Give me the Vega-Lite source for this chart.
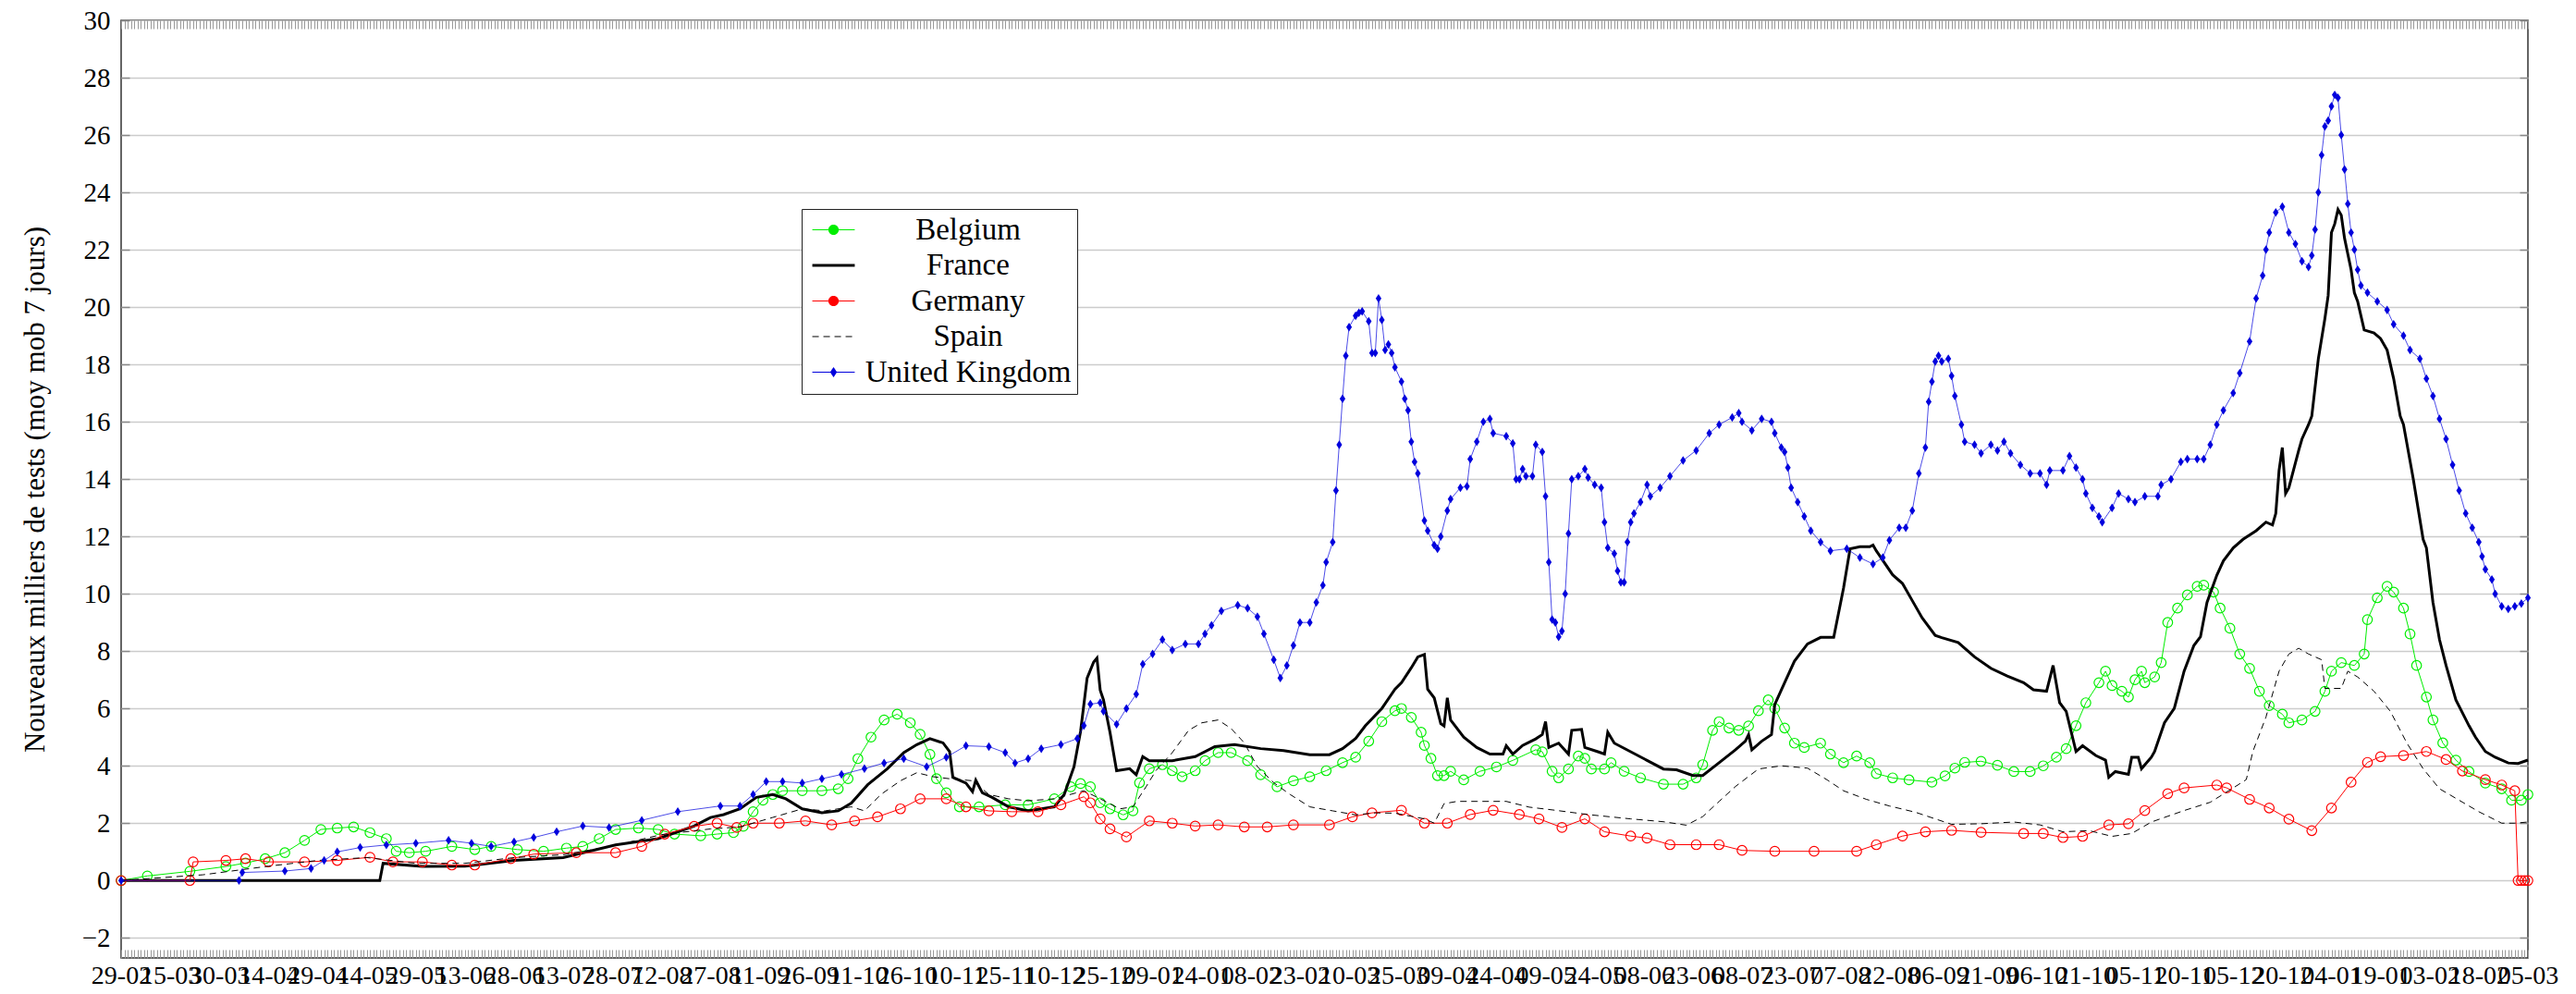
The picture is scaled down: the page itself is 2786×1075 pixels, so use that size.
{
  "$schema": "https://vega.github.io/schema/vega-lite/v6.json",
  "width": 2603,
  "height": 1014,
  "autosize": {"type": "none"},
  "padding": {"left": 131, "top": 22, "right": 52, "bottom": 39},
  "background": "white",
  "config": {
    "font": "'Liberation Serif', 'DejaVu Serif', serif",
    "view": {"stroke": "#333333", "strokeWidth": 1.5}
  },
  "datasets": {
    "be": [
      {"d":"2020-02-29","v":0},{"d":"2020-03-08","v":0.16},{"d":"2020-03-21","v":0.32},{"d":"2020-04-01","v":0.49},{"d":"2020-04-07","v":0.61},{"d":"2020-04-13","v":0.76},{"d":"2020-04-19","v":0.97},{"d":"2020-04-25","v":1.4},{"d":"2020-04-30","v":1.78},{"d":"2020-05-05","v":1.83},{"d":"2020-05-10","v":1.87},{"d":"2020-05-15","v":1.67},{"d":"2020-05-20","v":1.46},{"d":"2020-05-23","v":1.02},{"d":"2020-05-27","v":0.97},{"d":"2020-06-01","v":1.02},{"d":"2020-06-09","v":1.19},{"d":"2020-06-16","v":1.08},{"d":"2020-06-21","v":1.19},{"d":"2020-06-29","v":1.08},{"d":"2020-07-07","v":1.02},{"d":"2020-07-14","v":1.13},{"d":"2020-07-19","v":1.19},{"d":"2020-07-24","v":1.46},{"d":"2020-07-29","v":1.78},{"d":"2020-08-05","v":1.83},{"d":"2020-08-11","v":1.78},{"d":"2020-08-16","v":1.62},{"d":"2020-08-24","v":1.56},{"d":"2020-08-29","v":1.62},{"d":"2020-09-03","v":1.67},{"d":"2020-09-06","v":1.89},{"d":"2020-09-09","v":2.4},{"d":"2020-09-12","v":2.8},{"d":"2020-09-15","v":3.0},{"d":"2020-09-18","v":3.13},{"d":"2020-09-24","v":3.13},{"d":"2020-09-30","v":3.13},{"d":"2020-10-05","v":3.2},{"d":"2020-10-08","v":3.55},{"d":"2020-10-11","v":4.25},{"d":"2020-10-15","v":5.0},{"d":"2020-10-19","v":5.6},{"d":"2020-10-23","v":5.8},{"d":"2020-10-27","v":5.5},{"d":"2020-10-30","v":5.1},{"d":"2020-11-02","v":4.4},{"d":"2020-11-04","v":3.55},{"d":"2020-11-07","v":3.06},{"d":"2020-11-11","v":2.57},{"d":"2020-11-17","v":2.57},{"d":"2020-11-25","v":2.64},{"d":"2020-12-02","v":2.64},{"d":"2020-12-10","v":2.85},{"d":"2020-12-15","v":3.27},{"d":"2020-12-18","v":3.38},{"d":"2020-12-21","v":3.27},{"d":"2020-12-24","v":2.71},{"d":"2020-12-27","v":2.5},{"d":"2020-12-31","v":2.29},{"d":"2021-01-03","v":2.43},{"d":"2021-01-05","v":3.41},{"d":"2021-01-08","v":3.9},{"d":"2021-01-12","v":4.04},{"d":"2021-01-15","v":3.83},{"d":"2021-01-18","v":3.62},{"d":"2021-01-22","v":3.83},{"d":"2021-01-25","v":4.18},{"d":"2021-01-29","v":4.46},{"d":"2021-02-02","v":4.46},{"d":"2021-02-07","v":4.18},{"d":"2021-02-11","v":3.69},{"d":"2021-02-16","v":3.27},{"d":"2021-02-21","v":3.48},{"d":"2021-02-26","v":3.62},{"d":"2021-03-03","v":3.83},{"d":"2021-03-08","v":4.11},{"d":"2021-03-12","v":4.3},{"d":"2021-03-16","v":4.86},{"d":"2021-03-20","v":5.54},{"d":"2021-03-24","v":5.92},{"d":"2021-03-26","v":6.0},{"d":"2021-03-29","v":5.69},{"d":"2021-04-01","v":5.17},{"d":"2021-04-02","v":4.71},{"d":"2021-04-04","v":4.26},{"d":"2021-04-06","v":3.66},{"d":"2021-04-08","v":3.66},{"d":"2021-04-10","v":3.81},{"d":"2021-04-14","v":3.51},{"d":"2021-04-19","v":3.81},{"d":"2021-04-24","v":3.96},{"d":"2021-04-29","v":4.19},{"d":"2021-05-06","v":4.56},{"d":"2021-05-08","v":4.49},{"d":"2021-05-11","v":3.81},{"d":"2021-05-13","v":3.58},{"d":"2021-05-16","v":3.89},{"d":"2021-05-19","v":4.34},{"d":"2021-05-21","v":4.26},{"d":"2021-05-23","v":3.89},{"d":"2021-05-27","v":3.89},{"d":"2021-05-29","v":4.11},{"d":"2021-06-02","v":3.81},{"d":"2021-06-07","v":3.58},{"d":"2021-06-14","v":3.36},{"d":"2021-06-20","v":3.36},{"d":"2021-06-24","v":3.58},{"d":"2021-06-26","v":4.04},{"d":"2021-06-29","v":5.24},{"d":"2021-07-01","v":5.54},{"d":"2021-07-04","v":5.32},{"d":"2021-07-07","v":5.24},{"d":"2021-07-10","v":5.39},{"d":"2021-07-13","v":5.92},{"d":"2021-07-16","v":6.3},{"d":"2021-07-18","v":6.0},{"d":"2021-07-21","v":5.32},{"d":"2021-07-24","v":4.79},{"d":"2021-07-27","v":4.64},{"d":"2021-08-01","v":4.79},{"d":"2021-08-04","v":4.41},{"d":"2021-08-08","v":4.11},{"d":"2021-08-12","v":4.34},{"d":"2021-08-16","v":4.11},{"d":"2021-08-18","v":3.73},{"d":"2021-08-23","v":3.58},{"d":"2021-08-28","v":3.51},{"d":"2021-09-04","v":3.43},{"d":"2021-09-08","v":3.65},{"d":"2021-09-11","v":3.92},{"d":"2021-09-14","v":4.12},{"d":"2021-09-19","v":4.16},{"d":"2021-09-24","v":4.02},{"d":"2021-09-29","v":3.8},{"d":"2021-10-04","v":3.8},{"d":"2021-10-08","v":4.0},{"d":"2021-10-12","v":4.3},{"d":"2021-10-15","v":4.6},{"d":"2021-10-18","v":5.4},{"d":"2021-10-21","v":6.2},{"d":"2021-10-25","v":6.9},{"d":"2021-10-27","v":7.3},{"d":"2021-10-29","v":6.8},{"d":"2021-11-01","v":6.6},{"d":"2021-11-03","v":6.4},{"d":"2021-11-05","v":7.0},{"d":"2021-11-07","v":7.3},{"d":"2021-11-08","v":6.9},{"d":"2021-11-11","v":7.1},{"d":"2021-11-13","v":7.6},{"d":"2021-11-15","v":9.0},{"d":"2021-11-18","v":9.5},{"d":"2021-11-21","v":9.96},{"d":"2021-11-24","v":10.26},{"d":"2021-11-26","v":10.3},{"d":"2021-11-29","v":10.06},{"d":"2021-12-01","v":9.5},{"d":"2021-12-04","v":8.8},{"d":"2021-12-07","v":7.9},{"d":"2021-12-10","v":7.4},{"d":"2021-12-13","v":6.6},{"d":"2021-12-16","v":6.1},{"d":"2021-12-20","v":5.8},{"d":"2021-12-22","v":5.5},{"d":"2021-12-26","v":5.6},{"d":"2021-12-30","v":5.9},{"d":"2022-01-02","v":6.6},{"d":"2022-01-04","v":7.3},{"d":"2022-01-07","v":7.6},{"d":"2022-01-11","v":7.5},{"d":"2022-01-14","v":7.9},{"d":"2022-01-15","v":9.1},{"d":"2022-01-18","v":9.86},{"d":"2022-01-21","v":10.26},{"d":"2022-01-23","v":10.06},{"d":"2022-01-26","v":9.5},{"d":"2022-01-28","v":8.6},{"d":"2022-01-30","v":7.5},{"d":"2022-02-02","v":6.4},{"d":"2022-02-04","v":5.6},{"d":"2022-02-07","v":4.8},{"d":"2022-02-11","v":4.2},{"d":"2022-02-15","v":3.8},{"d":"2022-02-20","v":3.4},{"d":"2022-02-25","v":3.2},{"d":"2022-02-28","v":2.8},{"d":"2022-03-03","v":2.8},{"d":"2022-03-05","v":3.0}
    ],
    "fr": [
      {"d":"2020-02-29","v":0},{"d":"2020-05-18","v":0},{"d":"2020-05-19","v":0.6},{"d":"2020-05-31","v":0.49},{"d":"2020-06-13","v":0.5},{"d":"2020-06-28","v":0.7},{"d":"2020-07-13","v":0.8},{"d":"2020-07-29","v":1.24},{"d":"2020-08-11","v":1.46},{"d":"2020-08-22","v":1.9},{"d":"2020-08-27","v":2.2},{"d":"2020-08-31","v":2.3},{"d":"2020-09-05","v":2.5},{"d":"2020-09-10","v":2.9},{"d":"2020-09-15","v":3.0},{"d":"2020-09-19","v":2.85},{"d":"2020-09-24","v":2.5},{"d":"2020-09-30","v":2.36},{"d":"2020-10-05","v":2.43},{"d":"2020-10-09","v":2.7},{"d":"2020-10-14","v":3.34},{"d":"2020-10-20","v":3.9},{"d":"2020-10-25","v":4.46},{"d":"2020-10-29","v":4.74},{"d":"2020-11-02","v":4.95},{"d":"2020-11-06","v":4.8},{"d":"2020-11-08","v":4.5},{"d":"2020-11-09","v":3.6},{"d":"2020-11-13","v":3.4},{"d":"2020-11-15","v":3.1},{"d":"2020-11-16","v":3.5},{"d":"2020-11-18","v":3.06},{"d":"2020-11-21","v":2.9},{"d":"2020-11-26","v":2.57},{"d":"2020-12-02","v":2.43},{"d":"2020-12-10","v":2.57},{"d":"2020-12-13","v":3.0},{"d":"2020-12-16","v":3.97},{"d":"2020-12-18","v":5.2},{"d":"2020-12-20","v":7.06},{"d":"2020-12-22","v":7.62},{"d":"2020-12-23","v":7.76},{"d":"2020-12-24","v":6.64},{"d":"2020-12-25","v":6.3},{"d":"2020-12-27","v":5.16},{"d":"2020-12-29","v":3.83},{"d":"2021-01-02","v":3.9},{"d":"2021-01-04","v":3.69},{"d":"2021-01-06","v":4.32},{"d":"2021-01-08","v":4.18},{"d":"2021-01-15","v":4.18},{"d":"2021-01-22","v":4.32},{"d":"2021-01-28","v":4.67},{"d":"2021-02-03","v":4.74},{"d":"2021-02-11","v":4.6},{"d":"2021-02-18","v":4.53},{"d":"2021-02-26","v":4.39},{"d":"2021-03-04","v":4.39},{"d":"2021-03-08","v":4.6},{"d":"2021-03-12","v":4.95},{"d":"2021-03-15","v":5.4},{"d":"2021-03-20","v":6.0},{"d":"2021-03-24","v":6.67},{"d":"2021-03-26","v":6.9},{"d":"2021-03-29","v":7.42},{"d":"2021-03-31","v":7.8},{"d":"2021-04-02","v":7.88},{"d":"2021-04-03","v":6.67},{"d":"2021-04-05","v":6.37},{"d":"2021-04-07","v":5.47},{"d":"2021-04-08","v":5.39},{"d":"2021-04-09","v":6.37},{"d":"2021-04-10","v":5.6},{"d":"2021-04-14","v":5.0},{"d":"2021-04-18","v":4.64},{"d":"2021-04-22","v":4.41},{"d":"2021-04-26","v":4.41},{"d":"2021-04-27","v":4.7},{"d":"2021-04-29","v":4.41},{"d":"2021-05-02","v":4.71},{"d":"2021-05-06","v":4.94},{"d":"2021-05-08","v":5.09},{"d":"2021-05-09","v":5.54},{"d":"2021-05-10","v":4.64},{"d":"2021-05-13","v":4.79},{"d":"2021-05-16","v":4.41},{"d":"2021-05-17","v":5.24},{"d":"2021-05-20","v":5.27},{"d":"2021-05-21","v":4.64},{"d":"2021-05-25","v":4.49},{"d":"2021-05-27","v":4.41},{"d":"2021-05-28","v":5.17},{"d":"2021-05-30","v":4.79},{"d":"2021-06-04","v":4.49},{"d":"2021-06-09","v":4.19},{"d":"2021-06-14","v":3.89},{"d":"2021-06-18","v":3.86},{"d":"2021-06-23","v":3.66},{"d":"2021-06-26","v":3.66},{"d":"2021-07-01","v":4.11},{"d":"2021-07-06","v":4.56},{"d":"2021-07-09","v":4.86},{"d":"2021-07-10","v":5.09},{"d":"2021-07-11","v":4.56},{"d":"2021-07-14","v":4.86},{"d":"2021-07-17","v":5.09},{"d":"2021-07-18","v":6.14},{"d":"2021-07-21","v":6.9},{"d":"2021-07-24","v":7.65},{"d":"2021-07-28","v":8.25},{"d":"2021-08-01","v":8.48},{"d":"2021-08-05","v":8.48},{"d":"2021-08-08","v":10.2},{"d":"2021-08-10","v":11.57},{"d":"2021-08-13","v":11.64},{"d":"2021-08-16","v":11.64},{"d":"2021-08-17","v":11.7},{"d":"2021-08-18","v":11.5},{"d":"2021-08-23","v":10.66},{"d":"2021-08-26","v":10.36},{"d":"2021-08-29","v":9.76},{"d":"2021-09-01","v":9.16},{"d":"2021-09-05","v":8.55},{"d":"2021-09-07","v":8.47},{"d":"2021-09-12","v":8.3},{"d":"2021-09-17","v":7.8},{"d":"2021-09-22","v":7.4},{"d":"2021-09-27","v":7.13},{"d":"2021-10-02","v":6.9},{"d":"2021-10-05","v":6.65},{"d":"2021-10-09","v":6.6},{"d":"2021-10-11","v":7.5},{"d":"2021-10-13","v":6.2},{"d":"2021-10-15","v":5.9},{"d":"2021-10-18","v":4.5},{"d":"2021-10-20","v":4.7},{"d":"2021-10-24","v":4.36},{"d":"2021-10-27","v":4.2},{"d":"2021-10-28","v":3.6},{"d":"2021-10-30","v":3.8},{"d":"2021-11-03","v":3.7},{"d":"2021-11-04","v":4.3},{"d":"2021-11-06","v":4.3},{"d":"2021-11-07","v":3.9},{"d":"2021-11-10","v":4.3},{"d":"2021-11-11","v":4.5},{"d":"2021-11-14","v":5.5},{"d":"2021-11-17","v":6.0},{"d":"2021-11-20","v":7.3},{"d":"2021-11-23","v":8.2},{"d":"2021-11-25","v":8.5},{"d":"2021-11-27","v":9.7},{"d":"2021-11-30","v":10.65},{"d":"2021-12-02","v":11.15},{"d":"2021-12-05","v":11.6},{"d":"2021-12-08","v":11.9},{"d":"2021-12-12","v":12.2},{"d":"2021-12-15","v":12.5},{"d":"2021-12-17","v":12.4},{"d":"2021-12-18","v":12.8},{"d":"2021-12-19","v":14.3},{"d":"2021-12-20","v":15.1},{"d":"2021-12-21","v":13.5},{"d":"2021-12-22","v":13.7},{"d":"2021-12-25","v":15.0},{"d":"2021-12-26","v":15.4},{"d":"2021-12-28","v":15.9},{"d":"2021-12-29","v":16.2},{"d":"2021-12-31","v":18.2},{"d":"2022-01-02","v":19.6},{"d":"2022-01-03","v":20.4},{"d":"2022-01-04","v":22.6},{"d":"2022-01-05","v":22.9},{"d":"2022-01-06","v":23.4},{"d":"2022-01-07","v":23.2},{"d":"2022-01-08","v":22.4},{"d":"2022-01-10","v":21.3},{"d":"2022-01-11","v":20.5},{"d":"2022-01-12","v":20.2},{"d":"2022-01-14","v":19.2},{"d":"2022-01-17","v":19.1},{"d":"2022-01-19","v":18.9},{"d":"2022-01-21","v":18.5},{"d":"2022-01-23","v":17.5},{"d":"2022-01-25","v":16.2},{"d":"2022-01-26","v":15.9},{"d":"2022-01-29","v":14.0},{"d":"2022-02-01","v":11.9},{"d":"2022-02-02","v":11.6},{"d":"2022-02-04","v":9.7},{"d":"2022-02-06","v":8.4},{"d":"2022-02-08","v":7.5},{"d":"2022-02-11","v":6.3},{"d":"2022-02-15","v":5.4},{"d":"2022-02-17","v":5.0},{"d":"2022-02-20","v":4.5},{"d":"2022-02-23","v":4.3},{"d":"2022-02-27","v":4.1},{"d":"2022-03-02","v":4.08},{"d":"2022-03-05","v":4.2}
    ],
    "de": [
      {"d":"2020-02-29","v":0},{"d":"2020-03-21","v":0},{"d":"2020-03-22","v":0.65},{"d":"2020-04-01","v":0.7},{"d":"2020-04-07","v":0.76},{"d":"2020-04-14","v":0.65},{"d":"2020-04-25","v":0.65},{"d":"2020-05-05","v":0.7},{"d":"2020-05-15","v":0.81},{"d":"2020-05-22","v":0.65},{"d":"2020-05-31","v":0.65},{"d":"2020-06-09","v":0.54},{"d":"2020-06-16","v":0.54},{"d":"2020-06-27","v":0.76},{"d":"2020-07-04","v":0.92},{"d":"2020-07-17","v":0.97},{"d":"2020-07-29","v":0.97},{"d":"2020-08-06","v":1.19},{"d":"2020-08-13","v":1.62},{"d":"2020-08-22","v":1.89},{"d":"2020-08-29","v":2.0},{"d":"2020-09-04","v":1.85},{"d":"2020-09-09","v":2.0},{"d":"2020-09-17","v":2.0},{"d":"2020-09-25","v":2.08},{"d":"2020-10-03","v":1.94},{"d":"2020-10-10","v":2.08},{"d":"2020-10-17","v":2.22},{"d":"2020-10-24","v":2.5},{"d":"2020-10-30","v":2.85},{"d":"2020-11-07","v":2.85},{"d":"2020-11-13","v":2.57},{"d":"2020-11-20","v":2.43},{"d":"2020-11-27","v":2.4},{"d":"2020-12-05","v":2.4},{"d":"2020-12-12","v":2.64},{"d":"2020-12-19","v":2.92},{"d":"2020-12-21","v":2.71},{"d":"2020-12-24","v":2.15},{"d":"2020-12-27","v":1.8},{"d":"2021-01-01","v":1.52},{"d":"2021-01-08","v":2.08},{"d":"2021-01-15","v":2.0},{"d":"2021-01-22","v":1.9},{"d":"2021-01-29","v":1.94},{"d":"2021-02-06","v":1.87},{"d":"2021-02-13","v":1.87},{"d":"2021-02-21","v":1.94},{"d":"2021-03-04","v":1.94},{"d":"2021-03-11","v":2.22},{"d":"2021-03-17","v":2.36},{"d":"2021-03-26","v":2.45},{"d":"2021-04-02","v":2.0},{"d":"2021-04-09","v":2.0},{"d":"2021-04-16","v":2.3},{"d":"2021-04-23","v":2.45},{"d":"2021-05-01","v":2.3},{"d":"2021-05-07","v":2.15},{"d":"2021-05-14","v":1.85},{"d":"2021-05-21","v":2.15},{"d":"2021-05-27","v":1.7},{"d":"2021-06-04","v":1.55},{"d":"2021-06-09","v":1.48},{"d":"2021-06-16","v":1.25},{"d":"2021-06-24","v":1.25},{"d":"2021-07-01","v":1.25},{"d":"2021-07-08","v":1.05},{"d":"2021-07-18","v":1.02},{"d":"2021-07-30","v":1.02},{"d":"2021-08-12","v":1.02},{"d":"2021-08-18","v":1.25},{"d":"2021-08-26","v":1.55},{"d":"2021-09-02","v":1.7},{"d":"2021-09-10","v":1.75},{"d":"2021-09-19","v":1.68},{"d":"2021-10-02","v":1.64},{"d":"2021-10-08","v":1.64},{"d":"2021-10-14","v":1.5},{"d":"2021-10-20","v":1.54},{"d":"2021-10-28","v":1.94},{"d":"2021-11-03","v":1.98},{"d":"2021-11-08","v":2.44},{"d":"2021-11-15","v":3.03},{"d":"2021-11-20","v":3.23},{"d":"2021-11-30","v":3.33},{"d":"2021-12-03","v":3.23},{"d":"2021-12-10","v":2.83},{"d":"2021-12-16","v":2.53},{"d":"2021-12-22","v":2.14},{"d":"2021-12-29","v":1.74},{"d":"2022-01-04","v":2.53},{"d":"2022-01-10","v":3.43},{"d":"2022-01-15","v":4.12},{"d":"2022-01-19","v":4.32},{"d":"2022-01-26","v":4.36},{"d":"2022-02-02","v":4.5},{"d":"2022-02-08","v":4.22},{"d":"2022-02-13","v":3.82},{"d":"2022-02-20","v":3.52},{"d":"2022-02-25","v":3.33},{"d":"2022-03-01","v":3.13},{"d":"2022-03-02","v":0},{"d":"2022-03-03","v":0},{"d":"2022-03-04","v":0},{"d":"2022-03-05","v":0}
    ],
    "es": [
      {"d":"2020-02-29","v":0},{"d":"2020-03-25","v":0.2},{"d":"2020-04-14","v":0.5},{"d":"2020-04-29","v":0.7},{"d":"2020-05-14","v":0.8},{"d":"2020-05-29","v":0.6},{"d":"2020-06-13","v":0.6},{"d":"2020-06-28","v":0.8},{"d":"2020-07-13","v":0.9},{"d":"2020-07-28","v":1.2},{"d":"2020-08-12","v":1.6},{"d":"2020-08-27","v":1.8},{"d":"2020-09-05","v":1.87},{"d":"2020-09-15","v":2.2},{"d":"2020-09-24","v":2.5},{"d":"2020-10-01","v":2.43},{"d":"2020-10-09","v":2.57},{"d":"2020-10-13","v":2.43},{"d":"2020-10-18","v":3.0},{"d":"2020-10-24","v":3.48},{"d":"2020-10-29","v":3.76},{"d":"2020-11-03","v":3.62},{"d":"2020-11-08","v":3.55},{"d":"2020-11-15","v":3.48},{"d":"2020-11-20","v":3.0},{"d":"2020-11-26","v":2.85},{"d":"2020-12-02","v":2.78},{"d":"2020-12-10","v":2.85},{"d":"2020-12-19","v":3.13},{"d":"2020-12-24","v":2.85},{"d":"2020-12-30","v":2.5},{"d":"2021-01-03","v":2.57},{"d":"2021-01-07","v":3.27},{"d":"2021-01-10","v":3.83},{"d":"2021-01-15","v":4.46},{"d":"2021-01-20","v":5.24},{"d":"2021-01-24","v":5.5},{"d":"2021-01-29","v":5.6},{"d":"2021-02-02","v":5.3},{"d":"2021-02-06","v":4.8},{"d":"2021-02-10","v":3.97},{"d":"2021-02-15","v":3.41},{"d":"2021-02-20","v":3.0},{"d":"2021-02-26","v":2.57},{"d":"2021-03-05","v":2.43},{"d":"2021-03-12","v":2.29},{"d":"2021-03-18","v":2.36},{"d":"2021-03-24","v":2.35},{"d":"2021-04-02","v":2.15},{"d":"2021-04-05","v":2.0},{"d":"2021-04-08","v":2.68},{"d":"2021-04-12","v":2.76},{"d":"2021-04-18","v":2.76},{"d":"2021-04-27","v":2.76},{"d":"2021-05-04","v":2.56},{"d":"2021-05-12","v":2.45},{"d":"2021-05-22","v":2.3},{"d":"2021-06-04","v":2.15},{"d":"2021-06-14","v":2.05},{"d":"2021-06-21","v":1.93},{"d":"2021-06-26","v":2.23},{"d":"2021-07-01","v":2.76},{"d":"2021-07-06","v":3.28},{"d":"2021-07-13","v":3.89},{"d":"2021-07-20","v":4.0},{"d":"2021-07-28","v":3.92},{"d":"2021-08-03","v":3.51},{"d":"2021-08-08","v":3.13},{"d":"2021-08-15","v":2.83},{"d":"2021-08-22","v":2.6},{"d":"2021-08-30","v":2.38},{"d":"2021-09-05","v":2.15},{"d":"2021-09-10","v":1.96},{"d":"2021-09-19","v":1.98},{"d":"2021-09-29","v":2.04},{"d":"2021-10-07","v":1.94},{"d":"2021-10-14","v":1.7},{"d":"2021-10-22","v":1.74},{"d":"2021-10-29","v":1.54},{"d":"2021-11-04","v":1.64},{"d":"2021-11-10","v":2.04},{"d":"2021-11-20","v":2.44},{"d":"2021-11-28","v":2.73},{"d":"2021-12-05","v":3.23},{"d":"2021-12-09","v":3.52},{"d":"2021-12-11","v":4.5},{"d":"2021-12-15","v":5.7},{"d":"2021-12-19","v":7.3},{"d":"2021-12-22","v":7.9},{"d":"2021-12-25","v":8.1},{"d":"2021-12-28","v":7.9},{"d":"2022-01-01","v":7.7},{"d":"2022-01-02","v":6.7},{"d":"2022-01-07","v":6.7},{"d":"2022-01-09","v":7.3},{"d":"2022-01-12","v":7.1},{"d":"2022-01-17","v":6.6},{"d":"2022-01-22","v":5.9},{"d":"2022-01-27","v":4.8},{"d":"2022-02-01","v":3.9},{"d":"2022-02-06","v":3.2},{"d":"2022-02-12","v":2.8},{"d":"2022-02-18","v":2.4},{"d":"2022-02-25","v":2.0},{"d":"2022-03-01","v":2.0},{"d":"2022-03-05","v":2.04}
    ],
    "uk": [
      {"d":"2020-02-29","v":0},{"d":"2020-04-05","v":0},{"d":"2020-04-06","v":0.28},{"d":"2020-04-19","v":0.33},{"d":"2020-04-27","v":0.42},{"d":"2020-05-01","v":0.7},{"d":"2020-05-05","v":1.0},{"d":"2020-05-12","v":1.15},{"d":"2020-05-20","v":1.24},{"d":"2020-05-29","v":1.3},{"d":"2020-06-08","v":1.4},{"d":"2020-06-15","v":1.3},{"d":"2020-06-21","v":1.19},{"d":"2020-06-28","v":1.35},{"d":"2020-07-04","v":1.5},{"d":"2020-07-11","v":1.7},{"d":"2020-07-19","v":1.9},{"d":"2020-07-27","v":1.85},{"d":"2020-08-06","v":2.1},{"d":"2020-08-17","v":2.4},{"d":"2020-08-30","v":2.6},{"d":"2020-09-05","v":2.6},{"d":"2020-09-09","v":3.0},{"d":"2020-09-13","v":3.45},{"d":"2020-09-18","v":3.45},{"d":"2020-09-24","v":3.4},{"d":"2020-09-30","v":3.55},{"d":"2020-10-06","v":3.7},{"d":"2020-10-13","v":3.9},{"d":"2020-10-19","v":4.1},{"d":"2020-10-25","v":4.25},{"d":"2020-11-01","v":3.97},{"d":"2020-11-07","v":4.3},{"d":"2020-11-13","v":4.7},{"d":"2020-11-20","v":4.67},{"d":"2020-11-25","v":4.46},{"d":"2020-11-28","v":4.1},{"d":"2020-12-02","v":4.25},{"d":"2020-12-06","v":4.6},{"d":"2020-12-12","v":4.74},{"d":"2020-12-17","v":4.95},{"d":"2020-12-19","v":5.4},{"d":"2020-12-21","v":6.15},{"d":"2020-12-24","v":6.2},{"d":"2020-12-25","v":5.9},{"d":"2020-12-29","v":5.45},{"d":"2021-01-01","v":6.0},{"d":"2021-01-04","v":6.5},{"d":"2021-01-06","v":7.55},{"d":"2021-01-09","v":7.9},{"d":"2021-01-12","v":8.4},{"d":"2021-01-15","v":8.04},{"d":"2021-01-19","v":8.25},{"d":"2021-01-23","v":8.25},{"d":"2021-01-25","v":8.6},{"d":"2021-01-27","v":8.9},{"d":"2021-01-30","v":9.4},{"d":"2021-02-04","v":9.6},{"d":"2021-02-07","v":9.5},{"d":"2021-02-10","v":9.2},{"d":"2021-02-12","v":8.6},{"d":"2021-02-15","v":7.7},{"d":"2021-02-17","v":7.06},{"d":"2021-02-19","v":7.5},{"d":"2021-02-21","v":8.2},{"d":"2021-02-23","v":9.0},{"d":"2021-02-26","v":9.0},{"d":"2021-02-28","v":9.7},{"d":"2021-03-02","v":10.3},{"d":"2021-03-03","v":11.1},{"d":"2021-03-05","v":11.8},{"d":"2021-03-06","v":13.6},{"d":"2021-03-07","v":15.2},{"d":"2021-03-08","v":16.8},{"d":"2021-03-09","v":18.3},{"d":"2021-03-10","v":19.3},{"d":"2021-03-12","v":19.7},{"d":"2021-03-13","v":19.8},{"d":"2021-03-14","v":19.85},{"d":"2021-03-16","v":19.5},{"d":"2021-03-17","v":18.4},{"d":"2021-03-18","v":18.4},{"d":"2021-03-19","v":20.3},{"d":"2021-03-20","v":19.55},{"d":"2021-03-21","v":18.5},{"d":"2021-03-22","v":18.7},{"d":"2021-03-23","v":18.4},{"d":"2021-03-24","v":17.9},{"d":"2021-03-26","v":17.4},{"d":"2021-03-27","v":16.8},{"d":"2021-03-28","v":16.4},{"d":"2021-03-29","v":15.3},{"d":"2021-03-30","v":14.6},{"d":"2021-03-31","v":14.2},{"d":"2021-04-02","v":12.55},{"d":"2021-04-03","v":12.2},{"d":"2021-04-05","v":11.7},{"d":"2021-04-06","v":11.57},{"d":"2021-04-07","v":12.0},{"d":"2021-04-09","v":12.9},{"d":"2021-04-10","v":13.3},{"d":"2021-04-13","v":13.7},{"d":"2021-04-15","v":13.75},{"d":"2021-04-16","v":14.7},{"d":"2021-04-18","v":15.3},{"d":"2021-04-20","v":16.0},{"d":"2021-04-22","v":16.1},{"d":"2021-04-23","v":15.6},{"d":"2021-04-27","v":15.5},{"d":"2021-04-29","v":15.25},{"d":"2021-04-30","v":14.0},{"d":"2021-05-01","v":14.0},{"d":"2021-05-02","v":14.35},{"d":"2021-05-03","v":14.1},{"d":"2021-05-05","v":14.1},{"d":"2021-05-06","v":15.2},{"d":"2021-05-08","v":14.95},{"d":"2021-05-09","v":13.4},{"d":"2021-05-10","v":11.1},{"d":"2021-05-11","v":9.1},{"d":"2021-05-12","v":9.0},{"d":"2021-05-13","v":8.5},{"d":"2021-05-14","v":8.7},{"d":"2021-05-15","v":10.0},{"d":"2021-05-16","v":12.1},{"d":"2021-05-17","v":14.0},{"d":"2021-05-19","v":14.1},{"d":"2021-05-21","v":14.35},{"d":"2021-05-22","v":14.05},{"d":"2021-05-24","v":13.8},{"d":"2021-05-26","v":13.7},{"d":"2021-05-27","v":12.5},{"d":"2021-05-28","v":11.6},{"d":"2021-05-30","v":11.4},{"d":"2021-05-31","v":10.8},{"d":"2021-06-01","v":10.4},{"d":"2021-06-02","v":10.4},{"d":"2021-06-03","v":11.8},{"d":"2021-06-04","v":12.5},{"d":"2021-06-05","v":12.8},{"d":"2021-06-07","v":13.2},{"d":"2021-06-09","v":13.8},{"d":"2021-06-10","v":13.4},{"d":"2021-06-13","v":13.7},{"d":"2021-06-16","v":14.1},{"d":"2021-06-20","v":14.65},{"d":"2021-06-24","v":15.0},{"d":"2021-06-28","v":15.6},{"d":"2021-07-01","v":15.9},{"d":"2021-07-05","v":16.15},{"d":"2021-07-07","v":16.3},{"d":"2021-07-08","v":16.0},{"d":"2021-07-11","v":15.7},{"d":"2021-07-14","v":16.1},{"d":"2021-07-17","v":16.0},{"d":"2021-07-18","v":15.6},{"d":"2021-07-20","v":15.1},{"d":"2021-07-21","v":14.95},{"d":"2021-07-22","v":14.4},{"d":"2021-07-23","v":13.7},{"d":"2021-07-25","v":13.2},{"d":"2021-07-27","v":12.7},{"d":"2021-07-29","v":12.2},{"d":"2021-08-01","v":11.8},{"d":"2021-08-04","v":11.5},{"d":"2021-08-09","v":11.57},{"d":"2021-08-13","v":11.26},{"d":"2021-08-17","v":11.04},{"d":"2021-08-20","v":11.26},{"d":"2021-08-22","v":11.87},{"d":"2021-08-25","v":12.3},{"d":"2021-08-27","v":12.3},{"d":"2021-08-29","v":12.9},{"d":"2021-08-31","v":14.2},{"d":"2021-09-02","v":15.1},{"d":"2021-09-03","v":16.7},{"d":"2021-09-04","v":17.4},{"d":"2021-09-05","v":18.1},{"d":"2021-09-06","v":18.3},{"d":"2021-09-07","v":18.1},{"d":"2021-09-09","v":18.2},{"d":"2021-09-10","v":17.6},{"d":"2021-09-11","v":16.9},{"d":"2021-09-13","v":15.9},{"d":"2021-09-14","v":15.3},{"d":"2021-09-17","v":15.2},{"d":"2021-09-19","v":14.9},{"d":"2021-09-22","v":15.2},{"d":"2021-09-24","v":15.0},{"d":"2021-09-26","v":15.3},{"d":"2021-09-28","v":14.9},{"d":"2021-10-01","v":14.5},{"d":"2021-10-04","v":14.2},{"d":"2021-10-07","v":14.2},{"d":"2021-10-09","v":13.8},{"d":"2021-10-10","v":14.3},{"d":"2021-10-14","v":14.3},{"d":"2021-10-16","v":14.8},{"d":"2021-10-18","v":14.4},{"d":"2021-10-20","v":14.0},{"d":"2021-10-21","v":13.5},{"d":"2021-10-23","v":13.0},{"d":"2021-10-25","v":12.7},{"d":"2021-10-26","v":12.5},{"d":"2021-10-29","v":13.0},{"d":"2021-10-31","v":13.5},{"d":"2021-11-03","v":13.3},{"d":"2021-11-05","v":13.2},{"d":"2021-11-08","v":13.4},{"d":"2021-11-12","v":13.4},{"d":"2021-11-13","v":13.8},{"d":"2021-11-16","v":14.0},{"d":"2021-11-19","v":14.6},{"d":"2021-11-21","v":14.7},{"d":"2021-11-24","v":14.7},{"d":"2021-11-26","v":14.7},{"d":"2021-11-28","v":15.2},{"d":"2021-11-30","v":15.9},{"d":"2021-12-02","v":16.4},{"d":"2021-12-05","v":17.0},{"d":"2021-12-07","v":17.7},{"d":"2021-12-10","v":18.8},{"d":"2021-12-12","v":20.3},{"d":"2021-12-14","v":21.1},{"d":"2021-12-15","v":22.0},{"d":"2021-12-16","v":22.6},{"d":"2021-12-18","v":23.3},{"d":"2021-12-20","v":23.5},{"d":"2021-12-22","v":22.6},{"d":"2021-12-24","v":22.2},{"d":"2021-12-26","v":21.6},{"d":"2021-12-28","v":21.4},{"d":"2021-12-29","v":21.8},{"d":"2021-12-30","v":22.7},{"d":"2021-12-31","v":24.0},{"d":"2022-01-01","v":25.3},{"d":"2022-01-02","v":26.3},{"d":"2022-01-03","v":26.5},{"d":"2022-01-04","v":27.0},{"d":"2022-01-05","v":27.4},{"d":"2022-01-06","v":27.3},{"d":"2022-01-07","v":26.0},{"d":"2022-01-08","v":24.8},{"d":"2022-01-09","v":23.6},{"d":"2022-01-10","v":22.6},{"d":"2022-01-11","v":22.0},{"d":"2022-01-12","v":21.3},{"d":"2022-01-13","v":20.75},{"d":"2022-01-15","v":20.5},{"d":"2022-01-18","v":20.2},{"d":"2022-01-21","v":19.9},{"d":"2022-01-23","v":19.4},{"d":"2022-01-26","v":19.0},{"d":"2022-01-28","v":18.5},{"d":"2022-01-31","v":18.2},{"d":"2022-02-02","v":17.5},{"d":"2022-02-04","v":16.9},{"d":"2022-02-06","v":16.1},{"d":"2022-02-08","v":15.4},{"d":"2022-02-10","v":14.5},{"d":"2022-02-12","v":13.6},{"d":"2022-02-14","v":12.8},{"d":"2022-02-16","v":12.3},{"d":"2022-02-18","v":11.8},{"d":"2022-02-19","v":11.3},{"d":"2022-02-20","v":10.85},{"d":"2022-02-22","v":10.5},{"d":"2022-02-23","v":10.0},{"d":"2022-02-25","v":9.56},{"d":"2022-02-27","v":9.47},{"d":"2022-03-01","v":9.56},{"d":"2022-03-03","v":9.66},{"d":"2022-03-05","v":9.86}
    ]
  },
  "resolve": {"axis": {"x": "independent", "y": "independent"}},
  "layer": [
    {
      "data": {"name": "be"},
      "mark": {"type": "line", "strokeWidth": 1},
      "encoding": {
        "x": {"field": "d", "type": "temporal",
          "scale": {"type": "utc", "nice": false, "domain": [{"year": 2020, "month": 2, "date": 29, "utc": true}, {"year": 2022, "month": 3, "date": 5, "utc": true}]},
          "axis": {"orient": "bottom", "title": null, "tickCount": {"interval": "day", "step": 1},
            "labelExpr": "(datum.value - 1582934400000) % 1296000000 === 0 ? utcFormat(datum.value, '%d-%m') : ''",
            "labelOverlap": false, "labelFlush": false, "labelBound": false,
            "labelFont": "'Liberation Serif', 'DejaVu Serif', serif", "labelFontSize": 28, "labelColor": "black", "labelPadding": 14,
            "tickSize": -9, "tickColor": "#999999", "tickWidth": 1, "domain": false, "grid": false}},
        "y": {"field": "v", "type": "quantitative",
          "scale": {"domain": [-2.7, 30], "nice": false, "zero": false},
          "axis": {"orient": "left", "values": [-2,0,2,4,6,8,10,12,14,16,18,20,22,24,26,28,30],
            "grid": true, "gridColor": "#cccccc", "gridWidth": 1.3,
            "tickSize": -9, "tickColor": "#888888", "tickWidth": 1.5, "domain": false,
            "labelFont": "'Liberation Serif', 'DejaVu Serif', serif", "labelFontSize": 29, "labelColor": "black", "labelPadding": 21,
            "title": "Nouveaux milliers de tests (moy mob 7 jours)",
            "titleFont": "'Liberation Serif', 'DejaVu Serif', serif", "titleFontSize": 31, "titleFontWeight": "normal", "titleColor": "black",
            "titleAngle": 270, "titleX": -93, "titleY": 507, "titleAlign": "center", "titleBaseline": "middle"}},
        "color": {"datum": "Belgium", "type": "nominal",
          "scale": {"domain": ["Belgium", "France", "Germany", "Spain", "United Kingdom"], "range": ["#00ee00", "#000000", "#ff0000", "#000000", "#0000dd"]},
          "legend": {"orient": "none", "legendX": 736, "legendY": 204, "title": null,
            "padding": 6, "rowPadding": 4.5, "strokeColor": "#222222", "fillColor": "white", "cornerRadius": 0,
            "symbolType": "stroke", "symbolSize": 900, "symbolOffset": 12,
            "labelFont": "'Liberation Serif', 'DejaVu Serif', serif", "labelFontSize": 33, "labelColor": "black", "labelAlign": "center", "labelOffset": 129, "labelLimit": 500,
            "encoding": {"symbols": {
              "shape": {"value": {"expr": "datum.value === 'Belgium' || datum.value === 'Germany' ? 'M-1.53,0H1.53M0.333,0A0.333,0.333,0,1,1,-0.333,0A0.333,0.333,0,1,1,0.333,0' : (datum.value === 'United Kingdom' ? 'M-1.53,0H1.53M0,-0.3L0.2,0L0,0.3L-0.2,0Z' : 'M-1.53,0H1.53')"}},
              "fill": {"value": {"expr": "datum.value === 'United Kingdom' ? '#0000dd' : 'transparent'"}},
              "strokeWidth": {"value": {"expr": "datum.value === 'France' ? 3 : 1.2"}},
              "strokeDash": {"value": {"expr": "datum.value === 'Spain' ? [7,5] : [1,0]"}}
            }}}}
      }
    },
    {
      "data": {"name": "be"},
      "mark": {"type": "point", "shape": "circle", "filled": false, "size": 110, "strokeWidth": 1.2, "opacity": 1},
      "encoding": {
        "x": {"field": "d", "type": "temporal", "axis": null},
        "y": {"field": "v", "type": "quantitative", "axis": null},
        "color": {"datum": "Belgium", "type": "nominal"}
      }
    },
    {
      "data": {"name": "fr"},
      "mark": {"type": "line", "strokeWidth": 3},
      "encoding": {
        "x": {"field": "d", "type": "temporal", "axis": null},
        "y": {"field": "v", "type": "quantitative", "axis": null},
        "color": {"datum": "France", "type": "nominal"}
      }
    },
    {
      "data": {"name": "de"},
      "mark": {"type": "line", "strokeWidth": 1},
      "encoding": {
        "x": {"field": "d", "type": "temporal", "axis": null},
        "y": {"field": "v", "type": "quantitative", "axis": null},
        "color": {"datum": "Germany", "type": "nominal"}
      }
    },
    {
      "data": {"name": "de"},
      "mark": {"type": "point", "shape": "circle", "filled": false, "size": 110, "strokeWidth": 1.2, "opacity": 1},
      "encoding": {
        "x": {"field": "d", "type": "temporal", "axis": null},
        "y": {"field": "v", "type": "quantitative", "axis": null},
        "color": {"datum": "Germany", "type": "nominal"}
      }
    },
    {
      "data": {"name": "es"},
      "mark": {"type": "line", "strokeWidth": 1, "strokeDash": [7, 5]},
      "encoding": {
        "x": {"field": "d", "type": "temporal", "axis": null},
        "y": {"field": "v", "type": "quantitative", "axis": null},
        "color": {"datum": "Spain", "type": "nominal"}
      }
    },
    {
      "data": {"name": "uk"},
      "mark": {"type": "line", "strokeWidth": 1, "opacity": 0.7},
      "encoding": {
        "x": {"field": "d", "type": "temporal", "axis": null},
        "y": {"field": "v", "type": "quantitative", "axis": null},
        "color": {"datum": "United Kingdom", "type": "nominal"}
      }
    },
    {
      "data": {"name": "uk"},
      "mark": {"type": "point", "shape": "M0,-1L0.65,0L0,1L-0.65,0Z", "filled": true, "size": 90, "opacity": 1},
      "encoding": {
        "x": {"field": "d", "type": "temporal",
          "axis": {"orient": "top", "title": null, "labels": false, "tickCount": {"interval": "day", "step": 1},
            "tickSize": -9, "tickColor": "#999999", "tickWidth": 1, "domain": false, "grid": false}},
        "y": {"field": "v", "type": "quantitative",
          "axis": {"orient": "right", "title": null, "labels": false, "values": [-2,0,2,4,6,8,10,12,14,16,18,20,22,24,26,28,30],
            "tickSize": -9, "tickColor": "#888888", "tickWidth": 1.5, "domain": false, "grid": false}},
        "color": {"datum": "United Kingdom", "type": "nominal"}
      }
    }
  ]
}
